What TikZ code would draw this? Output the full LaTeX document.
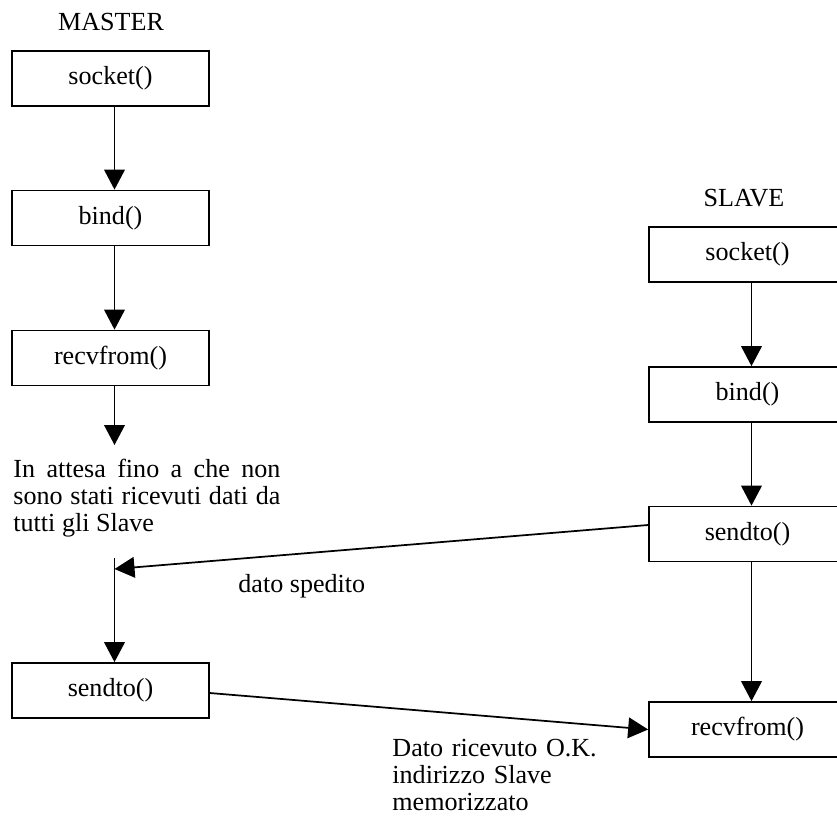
\documentclass[tikz,border=0pt]{standalone}
\usepackage{fontspec}
\setmainfont{Liberation Serif}
\usetikzlibrary{arrows.meta,calc}

\begin{document}
\begin{tikzpicture}[x=0.46pt,y=-0.46pt,
    funz/.style={draw,line width=0.8pt,minimum width=90.6pt,minimum height=25.3pt,
                 inner sep=0pt,font=\fontsize{12}{14}\selectfont},
    freccia/.style={-{Triangle[length=9.2pt,width=9.5pt]},line width=0.8pt},
    testo/.style={inner sep=0pt,font=\fontsize{12}{12.6}\selectfont}]
  \useasboundingbox (0,0) rectangle (837,820);

  % Master column
  \node[testo,anchor=base] (mtitolo) at (111,30) {MASTER};
  \node[funz] (msocket) at (110.5,78.5) {socket()};
  \node[funz] (mbind) at (110.5,218) {bind()};
  \node[funz] (mrecv) at (110.5,358) {recvfrom()};
  \node[funz] (msend) at (110.5,690.5) {sendto()};

  % Wait note under recvfrom()
  \coordinate (attesa) at (114.5,445);
  \node[testo,anchor=base west,text width=122.8pt,align=justify] (nota) at (13,477)
        {In attesa fino a che non\linebreak sono stati ricevuti dati da\linebreak tutti gli Slave};
  \coordinate (ripresa) at (114.5,558);
  \coordinate (arrivo) at (114.5,569);

  % Slave column
  \node[testo,anchor=base] (stitolo) at (744,206) {SLAVE};
  \node[funz] (ssocket) at (747.5,254.5) {socket()};
  \node[funz] (sbind) at (747.5,394.5) {bind()};
  \node[funz] (ssend) at (747.5,534) {sendto()};
  \node[funz] (srecv) at (747.5,729.5) {recvfrom()};

  % Vertical flows
  \draw[freccia] ($(msocket.south)+(4,0)$) -- ($(mbind.north)+(4,0)$);
  \draw[freccia] ($(mbind.south)+(4,0)$) -- ($(mrecv.north)+(4,0)$);
  \draw[freccia] ($(mrecv.south)+(4,0)$) -- (attesa);
  \draw[freccia] (ripresa) -- ($(msend.north)+(4,0)$);
  \draw[freccia] ($(ssocket.south)+(4,0)$) -- ($(sbind.north)+(4,0)$);
  \draw[freccia] ($(sbind.south)+(4,0)$) -- ($(ssend.north)+(4,0)$);
  \draw[freccia] ($(ssend.south)+(4,0)$) -- ($(srecv.north)+(4,0)$);

  % Messages between master and slave
  \draw[freccia] ($(ssend.west)+(0,-9)$) -- (arrivo);
  \node[testo,anchor=base west] (spedito) at (238,592) {dato spedito};
  \draw[freccia] ($(msend.east)+(0,2.5)$) -- (srecv.west);
  \node[testo,anchor=base west,text width=110pt,align=left] (ricevuto) at (392,756)
        {Dato ricevuto O.K.\\ indirizzo Slave\\ memorizzato};
\end{tikzpicture}
\end{document}
